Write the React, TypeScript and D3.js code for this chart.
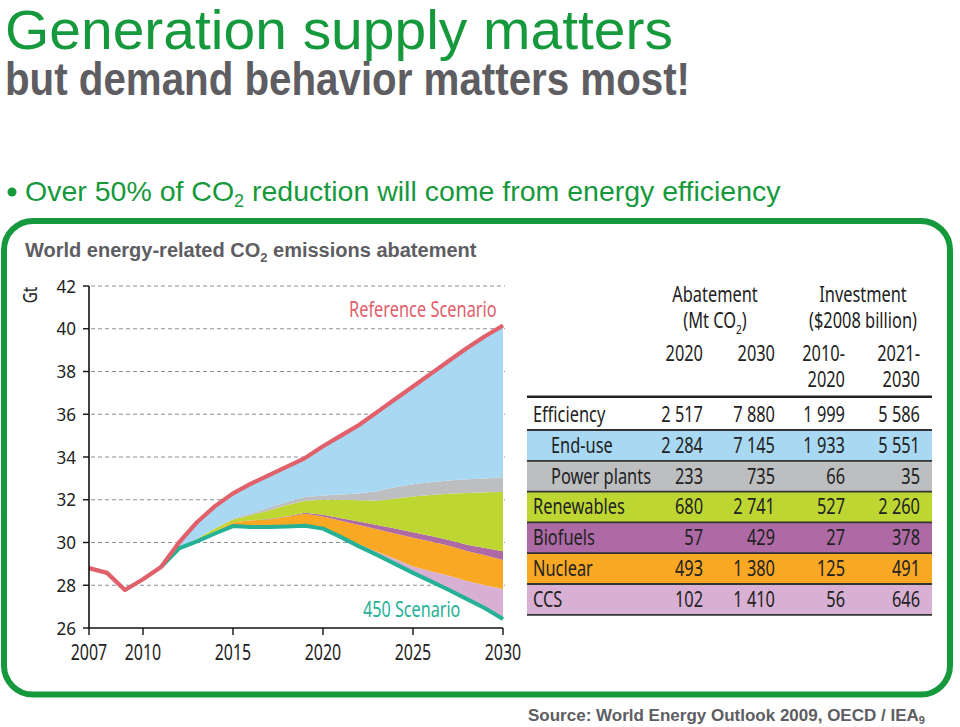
import React from 'react';
import * as d3 from 'd3';

// ---------- DATA ----------
const refYears = [2007, 2008, 2009, 2010, 2011, 2012, 2013, 2014, 2015, 2016, 2017, 2018, 2019, 2020, 2021, 2022, 2023, 2024, 2025, 2026, 2027, 2028, 2029, 2030];
const referenceScenario = [28.8, 28.58, 27.78, 28.28, 28.85, 30.0, 30.95, 31.7, 32.3, 32.75, 33.15, 33.55, 33.95, 34.5, 35.0, 35.5, 36.1, 36.7, 37.3, 37.9, 38.5, 39.1, 39.65, 40.15];

const wedgeYears = [2011, 2012, 2013, 2014, 2015, 2016, 2017, 2018, 2019, 2020, 2021, 2022, 2023, 2024, 2025, 2026, 2027, 2028, 2029, 2030];
const scenario450 = [28.85, 29.72, 30.05, 30.42, 30.77, 30.72, 30.72, 30.75, 30.78, 30.65, 30.25, 29.82, 29.42, 29.0, 28.58, 28.18, 27.78, 27.35, 26.92, 26.42];
const ccs = [0, 0, 0, 0, 0, 0, 0, 0, 0.02, 0.05, 0.07, 0.1, 0.15, 0.24, 0.3, 0.47, 0.67, 0.85, 1.08, 1.4];
const nuclear = [0, 0.01, 0.03, 0.1, 0.18, 0.31, 0.36, 0.45, 0.54, 0.52, 0.7, 0.9, 1.05, 1.18, 1.34, 1.4, 1.4, 1.4, 1.4, 1.36];
const biofuels = [0, 0, 0, 0, 0, 0.01, 0.02, 0.03, 0.05, 0.08, 0.12, 0.16, 0.2, 0.24, 0.26, 0.25, 0.27, 0.3, 0.34, 0.41];
const renewables = [0, 0.03, 0.08, 0.13, 0.13, 0.24, 0.4, 0.52, 0.56, 0.7, 0.86, 1.0, 1.13, 1.39, 1.67, 1.92, 2.16, 2.42, 2.61, 2.77];
const powerPlants = [0, 0, 0.01, 0.02, 0.04, 0.08, 0.14, 0.15, 0.18, 0.2, 0.25, 0.31, 0.45, 0.53, 0.57, 0.6, 0.62, 0.64, 0.65, 0.69];

const yTicks = [26, 28, 30, 32, 34, 36, 38, 40, 42];
const xTicks = [2007, 2010, 2015, 2020, 2025, 2030];

const tableRows = ['Efficiency', 'End-use', 'Power plants', 'Renewables', 'Biofuels', 'Nuclear', 'CCS'];
const abatement2020 = ['2 517', '2 284', '233', '680', '57', '493', '102'];
const abatement2030 = ['7 880', '7 145', '735', '2 741', '429', '1 380', '1 410'];
const investment2010to2020 = ['1 999', '1 933', '66', '527', '27', '125', '56'];
const investment2021to2030 = ['5 586', '5 551', '35', '2 260', '378', '491', '646'];

// ---------- STYLES ----------
const GREEN = '#15993c';
const GREY_TXT = '#5d5d62';
const CF = '"Noto Sans", "Open Sans", sans-serif';
const AF = '"Liberation Sans", Arial, sans-serif';
const fills: Record<string, string> = {
  Efficiency: 'none',
  'End-use': '#a9d8f3',
  'Power plants': '#bcbec0',
  Renewables: '#bed631',
  Biofuels: '#ad6aa5',
  Nuclear: '#f9a823',
  CCS: '#d8b0d3',
};
const indented: Record<string, boolean> = { 'End-use': true, 'Power plants': true };
const RED = '#e0606b';
const TEAL = '#25b196';

function T(props: any) {
  const { x, y, sx = 0.78, anchor = 'start', size = 21, fill = '#222', weight = 'normal', family = CF, children } = props;
  return (
    <text transform={`translate(${x},${y}) scale(${sx},1)`} textAnchor={anchor} fontSize={size} fill={fill} fontWeight={weight} fontFamily={family}>
      {children}
    </text>
  );
}

export default function App() {
  const x = d3.scaleLinear().domain([2007, 2030]).range([89, 503]);
  const y = d3.scaleLinear().domain([26, 42]).range([628, 286]);

  const keys = ['base', 'ccs', 'nuclear', 'biofuels', 'renewables', 'powerPlants', 'endUse'];
  const rows = wedgeYears.map((yr, i) => {
    const refV = referenceScenario[refYears.indexOf(yr)];
    const lower = scenario450[i] + ccs[i] + nuclear[i] + biofuels[i] + renewables[i] + powerPlants[i];
    return {
      year: yr,
      base: scenario450[i],
      ccs: ccs[i],
      nuclear: nuclear[i],
      biofuels: biofuels[i],
      renewables: renewables[i],
      powerPlants: powerPlants[i],
      endUse: Math.max(0, refV - lower),
    };
  });
  const series = d3.stack<any>().keys(keys)(rows);
  const layerFill: Record<string, string> = {
    ccs: fills.CCS,
    nuclear: fills.Nuclear,
    biofuels: fills.Biofuels,
    renewables: fills.Renewables,
    powerPlants: fills['Power plants'],
    endUse: fills['End-use'],
  };
  const area = d3
    .area<any>()
    .x((d) => x(d.data.year))
    .y0((d) => y(d[0]))
    .y1((d) => y(d[1]));
  const refLine = d3
    .line<number>()
    .x((_, i) => x(refYears[i]))
    .y((d) => y(d));
  const s450Line = d3
    .line<number>()
    .x((_, i) => x(wedgeYears[i]))
    .y((d) => y(d));

  // table geometry
  const tLeft = 527;
  const tRight = 932;
  const headLineY = 396.7;
  const firstRowH = 33.3;
  const rowH = 30.8;
  const rowTop = (i: number) => (i === 0 ? headLineY : headLineY + firstRowH + (i - 1) * rowH);
  const rowBottom = (i: number) => headLineY + firstRowH + i * rowH;
  const colRight = [703, 775, 845, 920];
  const cols = [abatement2020, abatement2030, investment2010to2020, investment2021to2030];

  return (
    <div style={{ position: 'absolute', left: 0, top: 0 }}>
      <svg width={960} height={727} viewBox="0 0 960 727" style={{ display: 'block', background: '#fff' }}>
        {/* Titles */}
        <text x={5} y={49} fontFamily={AF} fontSize={55} fill={GREEN} textLength={668} lengthAdjust="spacingAndGlyphs">
          Generation supply matters
        </text>
        <text x={5} y={95} fontFamily={AF} fontSize={46} fontWeight="bold" fill={GREY_TXT} textLength={685} lengthAdjust="spacingAndGlyphs">
          but demand behavior matters most!
        </text>
        <circle cx={12} cy={192} r={4.5} fill={GREEN} />
        <text x={25} y={201} fontFamily={AF} fontSize={28.5} fill={GREEN}>
          Over 50% of CO
          <tspan fontSize={18} dy={6}>2</tspan>
          <tspan dy={-6}> reduction will come from energy efficiency</tspan>
        </text>

        {/* Green frame */}
        <rect x={4} y={221} width={946} height={473.5} rx={29} ry={29} fill="none" stroke={GREEN} strokeWidth={6} />

        <text x={25} y={257} fontFamily={AF} fontSize={20} fontWeight="bold" fill={GREY_TXT}>
          World energy-related CO
          <tspan fontSize={13} dy={5}>2</tspan>
          <tspan dy={-5}> emissions abatement</tspan>
        </text>

        {/* Chart gridlines */}
        {yTicks.filter((t) => t > 26).map((t) => (
          <line key={'g' + t} x1={91} x2={505} y1={y(t)} y2={y(t)} stroke="#8a8f98" strokeWidth={1} strokeDasharray="4 3" />
        ))}

        {/* Wedges */}
        {series.slice(1).map((s) => (
          <path key={s.key} d={area(s as any) || ''} fill={layerFill[s.key]} />
        ))}

        {/* Lines */}
        <path d={s450Line(scenario450) || ''} fill="none" stroke={TEAL} strokeWidth={4} strokeLinejoin="round" />
        <path d={refLine(referenceScenario) || ''} fill="none" stroke={RED} strokeWidth={4.2} strokeLinejoin="round" />

        {/* Axes */}
        <line x1={x(2007)} x2={x(2007)} y1={y(42)} y2={y(26)} stroke="#111" strokeWidth={1.6} />
        <line x1={x(2007)} x2={x(2030)} y1={y(26)} y2={y(26)} stroke="#111" strokeWidth={1.6} />
        {yTicks.map((t) => (
          <g key={'yt' + t}>
            <line x1={x(2007) - 6} x2={x(2007)} y1={y(t)} y2={y(t)} stroke="#111" strokeWidth={1.4} />
            <T x={76} y={y(t) + 6.5} anchor="end" size={18} sx={0.95}>
              {t}
            </T>
          </g>
        ))}
        {xTicks.map((t) => (
          <g key={'xt' + t}>
            <line x1={x(t)} x2={x(t)} y1={y(26)} y2={y(26) + 7} stroke="#111" strokeWidth={1.4} />
            <T x={x(t)} y={660} anchor="middle" size={21} sx={0.76}>
              {t}
            </T>
          </g>
        ))}
        <g transform="translate(37,295) rotate(-90)">
          <T x={0} y={0} anchor="middle" size={20} sx={0.76}>
            Gt
          </T>
        </g>

        <T x={349} y={317} size={21} sx={0.78} fill={RED}>
          Reference Scenario
        </T>
        <T x={363} y={617} size={21} sx={0.77} fill={TEAL}>
          450 Scenario
        </T>

        {/* Table header */}
        <T x={715} y={302} anchor="middle">Abatement</T>
        <T x={715} y={328} anchor="middle">
          (Mt CO<tspan fontSize={13} dy={6}>2</tspan>
          <tspan dy={-6}>)</tspan>
        </T>
        <T x={863} y={302} anchor="middle">Investment</T>
        <T x={863} y={328} anchor="middle">($2008 billion)</T>
        <T x={colRight[0]} y={361} anchor="end">2020</T>
        <T x={colRight[1]} y={361} anchor="end">2030</T>
        <T x={colRight[2]} y={361} anchor="end">2010-</T>
        <T x={colRight[3]} y={361} anchor="end">2021-</T>
        <T x={colRight[2]} y={387} anchor="end">2020</T>
        <T x={colRight[3]} y={387} anchor="end">2030</T>

        {/* Table rows */}
        {tableRows.map((name, i) => (
          <g key={name}>
            {fills[name] !== 'none' && (
              <rect x={tLeft} y={rowTop(i)} width={tRight - tLeft} height={rowBottom(i) - rowTop(i)} fill={fills[name]} />
            )}
            <T x={indented[name] ? 551 : 533} y={rowBottom(i) - 8}>
              {name}
            </T>
            {cols.map((c, j) => (
              <T key={j} x={colRight[j]} y={rowBottom(i) - 8} anchor="end">
                {c[i]}
              </T>
            ))}
          </g>
        ))}
        <line x1={tLeft} x2={tRight} y1={headLineY} y2={headLineY} stroke="#222" strokeWidth={2.5} />
        {tableRows.map((name, i) => (
          <line key={'rl' + name} x1={tLeft} x2={tRight} y1={rowBottom(i)} y2={rowBottom(i)} stroke="#333" strokeWidth={1.8} />
        ))}

        {/* Source */}
        <text x={528} y={721} fontFamily={AF} fontSize={17} fontWeight="bold" fill={GREY_TXT}>
          Source: World Energy Outlook 2009, OECD / IEA
          <tspan fontSize={11} dy={3}>9</tspan>
        </text>
      </svg>
    </div>
  );
}
